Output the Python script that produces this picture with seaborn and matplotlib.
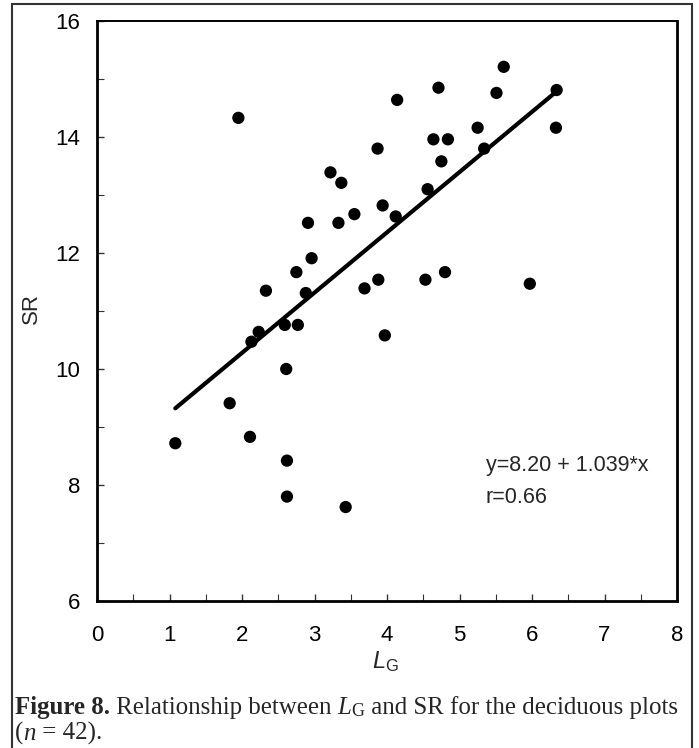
import numpy as np
import pandas as pd
import matplotlib
matplotlib.use("Agg")
import matplotlib.pyplot as plt
import seaborn as sns
from matplotlib.patches import Rectangle
from matplotlib.ticker import MultipleLocator

# Light-gap fraction (L_G) and species richness (SR) for the deciduous plots
lg = [1.08, 1.83, 1.95, 2.11, 2.13, 2.23, 2.33, 2.59, 2.61, 2.62,
      2.62, 2.75, 2.77, 2.88, 2.91, 2.96, 3.22, 3.33, 3.37, 3.43,
      3.55, 3.69, 3.87, 3.88, 3.94, 3.97, 4.12, 4.14, 4.53, 4.56,
      4.64, 4.71, 4.75, 4.80, 4.84, 5.25, 5.34, 5.51, 5.61, 5.97,
      6.33, 6.34]
sr = [8.72, 9.41, 14.33, 8.83, 10.47, 10.64, 11.35, 10.76, 10.00, 8.42,
      7.80, 11.67, 10.76, 11.31, 12.52, 11.91, 13.39, 12.52, 13.21, 7.62,
      12.67, 11.39, 13.80, 11.54, 12.82, 10.58, 12.63, 14.64, 11.54, 13.10,
      13.96, 14.85, 13.58, 11.67, 13.96, 14.16, 13.80, 14.76, 15.21, 11.47,
      14.16, 14.81]

# Fitted regression: SR = a + b * L_G
intercept = 8.20
slope = 1.039
r_value = 0.66

x_ticks = [0, 1, 2, 3, 4, 5, 6, 7, 8]
y_ticks = [6, 8, 10, 12, 14, 16]

df = pd.DataFrame({"LG": lg, "SR": sr})

sns.set_theme(style="ticks")
plt.rcParams["font.family"] = ["Liberation Sans", "DejaVu Sans"]
plt.rcParams["mathtext.fontset"] = "custom"
plt.rcParams["mathtext.rm"] = "Liberation Sans"
plt.rcParams["mathtext.it"] = "Liberation Sans:italic"

W, H = 699, 748
fig = plt.figure(figsize=(W / 100, H / 100), dpi=100)
ax = fig.add_axes([97 / W, 1 - 601 / H, 580 / W, 580 / H])

sns.scatterplot(data=df, x="LG", y="SR", ax=ax, color="black",
                s=78, edgecolor="none", legend=False, zorder=3)

line_x = np.array([min(lg), max(lg)])
sns.lineplot(x=line_x, y=intercept + slope * line_x, ax=ax,
             color="black", linewidth=3.0, zorder=2)

ax.set_xlim(0, 8)
ax.set_ylim(6, 16)
ax.set_xticks(x_ticks)
ax.set_yticks(y_ticks)
ax.xaxis.set_minor_locator(MultipleLocator(0.5))
ax.yaxis.set_minor_locator(MultipleLocator(1))
ax.tick_params(axis="both", which="both", direction="in", top=False,
               right=False, color="#333333")
ax.tick_params(axis="both", which="major", length=5, width=1.0,
               labelsize=16, labelcolor="black")
ax.tick_params(axis="x", which="major", pad=17)
ax.tick_params(axis="y", which="major", pad=12)
ax.tick_params(axis="both", which="minor", length=5, width=0.8)

for side in ["left", "bottom", "right", "top"]:
    ax.spines[side].set_visible(True)
    ax.spines[side].set_color("black")
    ax.spines[side].set_linewidth(2.0)
ax.spines["top"].set_linewidth(1.4)

ax.set_xlabel(r"$\mathit{L}_{\mathrm{G}}$", fontsize=17)
ax.set_ylabel("SR", fontsize=16)
ax.xaxis.set_label_coords(0.498, -0.083)
ax.yaxis.set_label_coords(-0.095, 0.505)

ax.text(5.36, 8.33, f"y={intercept:.2f} + {slope:.3f}*x",
        fontsize=15.5, va="center", ha="left")
ax.text(5.36, 7.79, f"r={r_value:.2f}", fontsize=15.5, va="center", ha="left")

# Outer frame around the figure and caption
fig.patches.append(Rectangle((12 / W, -0.01), 680 / W, 1 - 4 / H + 0.01,
                             transform=fig.transFigure, fill=False,
                             edgecolor="#333333", linewidth=1.5))

# Caption written as consecutive runs of serif text
serif = ["Liberation Serif", "DejaVu Serif"]
renderer = fig.canvas.get_renderer()


def caption_line(x_px, y_px, runs, size=17.9):
    x = x_px
    for text, kw in runs:
        fs = size * kw.get("scale", 1.0)
        dy = kw.get("dy", 0)
        t = fig.text(x / W, 1 - (y_px + dy) / H, text, family=serif,
                     fontsize=fs, fontweight=kw.get("weight", "normal"),
                     fontstyle=kw.get("style", "normal"),
                     va="baseline", ha="left")
        bb = t.get_window_extent(renderer)
        x += bb.width


caption_line(15, 714, [
    ("Figure 8.", {"weight": "bold"}),
    (" Relationship between ", {}),
    ("L", {"style": "italic"}),
    ("G", {"scale": 0.72, "dy": 2}),
    (" and SR for the deciduous plots", {}),
])
caption_line(15, 740, [
    ("(", {}),
    ("n", {"style": "italic"}),
    (" = 42).", {}),
])

fig.savefig("out.png", dpi=100)
